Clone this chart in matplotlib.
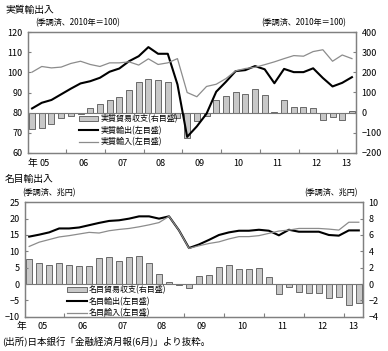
import numpy as np
import matplotlib
matplotlib.use("Agg")
import matplotlib.pyplot as plt
from matplotlib.patches import Patch
from matplotlib.lines import Line2D

plt.rcParams['font.family'] = ['Noto Sans CJK JP', 'DejaVu Sans']

# quarterly data, 2005Q1 .. 2013Q2
real_balance = [-79, -76, -58, -28, -18, -8, 25, 44, 62, 77, 110, 153, 168, 161, 151, -28,
                -128, -40, -17, 62, 85, 102, 94, 117, 87, 5, 64, 26, 30, 23, -36, -23, -36, 10]
real_export = [82.1, 84.9, 86.3, 89.1, 91.9, 94.5, 95.6, 97.3, 100.3, 101.9, 105.5, 108.0, 112.5,
               109.2, 109.2, 94.0, 68.0, 73.2, 79.5, 90.4, 95.3, 100.6, 101.1, 103.1, 101.5,
               94.6, 101.7, 100.1, 100.1, 102.0, 97.2, 93.0, 94.8, 97.6]
real_import = [100.1, 102.9, 102.2, 102.6, 104.4, 105.5, 103.9, 102.9, 104.7, 104.7, 105.2,
               103.6, 106.7, 103.9, 104.7, 106.8, 90.0, 87.9, 93.0, 94.1, 96.9, 100.7, 101.9,
               102.5, 103.8, 105.2, 106.8, 108.3, 108.0, 110.3, 111.2, 105.5, 108.6, 106.8]

nom_balance = [3.02, 2.53, 2.29, 2.53, 2.29, 2.16, 2.24, 3.14, 3.25, 2.86, 3.25, 3.37, 2.61,
               1.18, 0.29, -0.12, -0.45, 1.0, 1.06, 2.12, 2.29, 1.8, 1.8, 2.0, 0.84, -1.27,
               -0.37, -1.02, -1.1, -1.14, -1.72, -1.62, -2.57, -2.35]
nom_export = [14.5, 15.1, 15.8, 17.0, 17.0, 17.3, 18.0, 18.7, 19.3, 19.5, 20.0, 20.7, 20.7,
              20.0, 20.7, 16.4, 11.0, 12.1, 13.5, 15.0, 15.8, 16.3, 16.3, 16.6, 16.3, 14.9,
              16.6, 16.0, 16.0, 16.0, 15.0, 14.8, 16.4, 16.4]
nom_import = [11.5, 12.8, 13.6, 14.4, 14.8, 15.3, 15.8, 15.6, 16.3, 16.7, 17.0, 17.5, 18.1,
              18.8, 20.7, 16.4, 10.9, 11.7, 12.4, 12.9, 13.8, 14.5, 14.5, 14.8, 15.5, 16.2,
              16.5, 17.0, 17.0, 17.0, 16.8, 16.5, 18.9, 18.9]

year_labels = ['05', '06', '07', '08', '09', '10', '11', '12', '13']

x = np.arange(len(real_export))
spine_col = '#808080'
bar_face = '#c8c8c8'
bar_edge = '#555555'
imp_col = '#8c8c8c'

fig = plt.figure(figsize=(3.88, 3.51), dpi=100)


def panel(rect, balance, export, imp, ylim_l, yt_l, ylim_r, yt_r, labels, nen_x):
    ax = fig.add_axes(rect)
    ax2 = ax.twinx()
    ax2.bar(x, balance, width=0.62, color=bar_face, edgecolor=bar_edge, linewidth=0.6)
    ax2.axhline(0, color='#777777', lw=0.8)
    ax.plot(x, export, color='black', lw=1.5)
    ax.plot(x, imp, color=imp_col, lw=0.9)
    ax.set_zorder(ax2.get_zorder() + 1)
    ax.patch.set_visible(False)

    ax.set_xlim(-0.42, 33.42)
    ax.set_ylim(*ylim_l)
    ax.set_yticks(yt_l)
    ax2.set_ylim(*ylim_r)
    ax2.set_yticks(yt_r)

    # year boundaries as ticks, year names centred between them
    ax.set_xticks(np.arange(3.5, 33, 4))
    ax.set_xticklabels([])
    pos = list(np.arange(1.3, 30, 4)) + [32.4]
    ax.set_xticks(pos, minor=True)
    ax.set_xticklabels(labels, minor=True, fontsize=6.5)
    ax.tick_params(axis='x', which='minor', length=0, pad=4)
    ax.tick_params(axis='x', which='major', direction='in', length=3, color=spine_col)
    ax.tick_params(axis='y', direction='in', length=2.5, color=spine_col, labelsize=6.5, pad=4)
    ax2.tick_params(axis='y', direction='in', length=2.5, color=spine_col, labelsize=6.5, pad=4)
    for a in (ax, ax2):
        for s in a.spines.values():
            s.set_color(spine_col)
            s.set_linewidth(0.9)
    ax.text(nen_x, -0.085, '年', transform=ax.get_xaxis_transform(), ha='center', va='center',
            fontsize=7)
    return ax


ax_top = panel([28 / 388, 1 - 153 / 351, 328 / 388, 121 / 351],
               real_balance, real_export, real_import,
               (60, 120), range(60, 121, 10), (-200, 400), range(-200, 401, 100),
               year_labels, 0.0)
ax_bot = panel([25 / 388, 1 - 316.7 / 351, 338 / 388, 114.4 / 351],
               nom_balance, nom_export, nom_import,
               (-10, 25), range(-10, 26, 5), (-4, 10), range(-4, 11, 2),
               year_labels, -0.75)

handles = [Patch(facecolor=bar_face, edgecolor=bar_edge, linewidth=0.6),
           Line2D([], [], color='black', lw=1.5),
           Line2D([], [], color=imp_col, lw=0.9)]
ax_top.legend(handles, ['実質貿易収支(右目盛)', '実質輸出(左目盛)', '実質輸入(左目盛)'],
              loc='upper left', bbox_to_anchor=(0.155, 0.32), frameon=False, fontsize=5.8,
              handlelength=2.4, handleheight=0.7, handletextpad=0.3, labelspacing=0.3,
              borderpad=0, borderaxespad=0)
ax_bot.legend(handles, ['名目貿易収支(右目盛)', '名目輸出(左目盛)', '名目輸入(左目盛)'],
              loc='upper left', bbox_to_anchor=(0.125, 0.275), frameon=False, fontsize=5.8,
              handlelength=2.4, handleheight=0.7, handletextpad=0.3, labelspacing=0.3,
              borderpad=0, borderaxespad=0)

W, H = 388, 351
fig.text(5 / W, 1 - 10 / H, '実質輸出入', fontsize=7, va='center', ha='left')
fig.text(35 / W, 1 - 23 / H, '(季調済、2010年＝100)', fontsize=5.8, va='center', ha='left')
fig.text(346 / W, 1 - 23 / H, '(季調済、2010年＝100)', fontsize=5.8, va='center', ha='right')
fig.text(5 / W, 1 - 179 / H, '名目輸出入', fontsize=7, va='center', ha='left')
fig.text(22 / W, 1 - 193 / H, '(季調済、兆円)', fontsize=5.8, va='center', ha='left')
fig.text(358 / W, 1 - 193 / H, '(季調済、兆円)', fontsize=5.8, va='center', ha='right')
fig.text(2 / W, 1 - 342 / H, '(出所)日本銀行「金融経済月報(6月)」より抜粋。', fontsize=6.8,
         va='center', ha='left')

fig.savefig('out.png', dpi=100)
